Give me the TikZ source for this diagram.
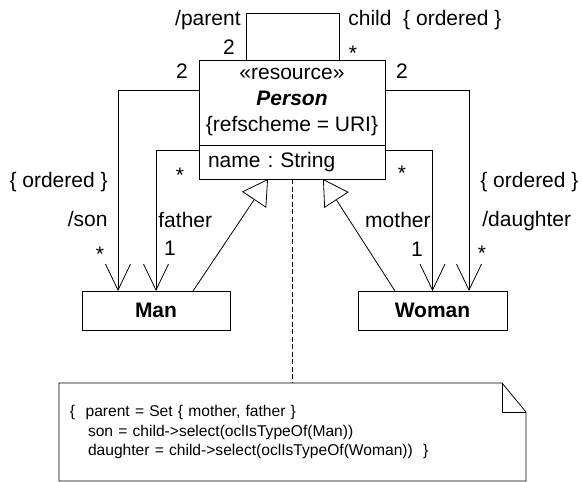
\documentclass[tikz,border=0pt]{standalone}
\usepackage{fontspec}
\setmainfont{Liberation Sans}
\usetikzlibrary{positioning, arrows.meta}
\frenchspacing

\tikzset{
	class/.style={draw, inner sep=0pt, outer sep=0pt, minimum width=186pt},
	lbl/.style={inner sep=0pt},
	assoc/.style={-{Straight Barb[length=26pt, width=25pt]}},
	gen/.style={-{Triangle[open, length=25pt, width=29pt]}}
}

\begin{document}
\begin{tikzpicture}[x=1pt, y=-1pt, line width=0.8pt, font=\fontsize{21}{26}\selectfont]
		\useasboundingbox (0,0) rectangle (582,482);

		\node[class, minimum height=85pt, align=center] (head) at (292,102.5) {«resource»\\\textbf{\textit{Person}}\\\{refscheme = URI\}};
		\node[class, below=0pt of head, minimum height=34pt, text width=168pt, inner xsep=9pt, align=left] (attr) {name : String};
		\node[class, minimum width=148pt, minimum height=39pt] (man) at (156,310.5) {\textbf{Man}};
		\node[class, minimum width=149pt, minimum height=39pt] (woman) at (432.5,310.5) {\textbf{Woman}};
		\node[text width=445pt, inner xsep=11pt, inner ysep=0pt, outer sep=0pt, minimum height=98pt, align=left, font=\fontsize{15.6}{19.5}\selectfont] (note) at (292.5,432)
			{\{\ \ parent = Set \{ mother, father \}\\
			\hspace*{18pt}son = child->select(oclIsTypeOf(Man))\\
			\hspace*{18pt}daughter = child->select(oclIsTypeOf(Woman))\ \ \}};

		% self association
		\draw ([xshift=-46pt]head.north) -- ++(0,-47) -| ([xshift=47pt]head.north);
		\node[lbl, anchor=base east] (parentlbl) at (241,25) {/parent};
		\node[lbl, anchor=base] (parentmult) at (229,54) {2};
		\node[lbl, anchor=base west] (childlbl) at (348,25) {child\ \ \{ ordered \}};
		\node[lbl, anchor=base] (childmult) at (353,60) {*};

		% associations
		\draw[assoc] ([yshift=12.5pt]head.west) -| ([xshift=-38pt]man.north);
		\draw[assoc] ([yshift=12pt]attr.west) -| (man.north);
		\draw[assoc] ([yshift=12.5pt]head.east) -| ([xshift=36.5pt]woman.north);
		\draw[assoc] ([yshift=12pt]attr.east) -| (woman.north);

		\node[lbl, anchor=base] (sonsrc) at (182,78) {2};
		\node[lbl, anchor=base east] (sonord) at (108,187) {\{ ordered \}};
		\node[lbl, anchor=base east] (sonlbl) at (108,226) {/son};
		\node[lbl, anchor=base] (sonmult) at (100,261) {*};
		\node[lbl, anchor=base] (fathersrc) at (180,182) {*};
		\node[lbl, anchor=base west] (fatherlbl) at (158,227) {father};
		\node[lbl, anchor=base] (fathermult) at (170,255) {1};

		\node[lbl, anchor=base] (daughtersrc) at (402,78) {2};
		\node[lbl, anchor=base] (mothersrc) at (402,180) {*};
		\node[lbl, anchor=base east] (motherlbl) at (431,227) {mother};
		\node[lbl, anchor=base] (mothermult) at (417,256) {1};
		\node[lbl, anchor=base west] (daughterord) at (480,187) {\{ ordered \}};
		\node[lbl, anchor=base west] (daughterlbl) at (482,226) {/daughter};
		\node[lbl, anchor=base] (daughtermult) at (482,260) {*};

		% generalizations
		\draw[gen] ([xshift=37pt]man.north) -- ([xshift=-24pt]attr.south);
		\draw[gen] ([xshift=-37.5pt]woman.north) -- ([xshift=31pt]attr.south);

		% note
		\draw[dash pattern=on 5pt off 2.5pt] (attr.south) -- (attr.south |- note.north);
		\draw (note.north west) -- ([xshift=-24pt]note.north east) -- ([yshift=-29pt]note.north east) -- (note.south east) -- (note.south west) -- cycle;
		\draw ([xshift=-24pt]note.north east) |- ([yshift=-29pt]note.north east);
\end{tikzpicture}
\end{document}
